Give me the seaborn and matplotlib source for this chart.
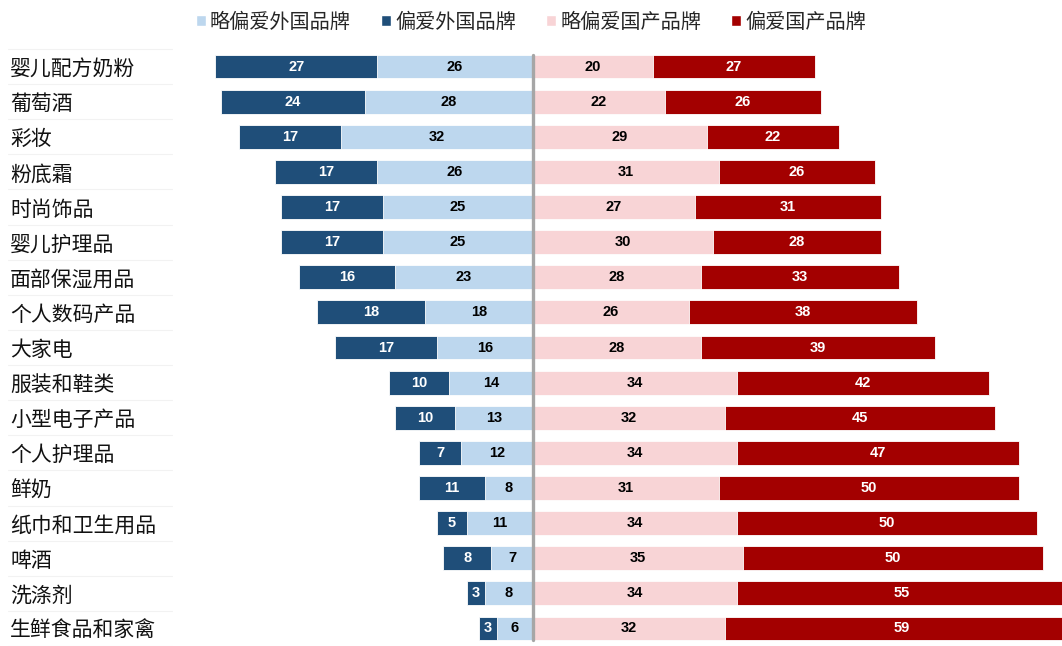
import matplotlib
matplotlib.use("Agg")
import matplotlib.pyplot as plt
import matplotlib.transforms as mtransforms
from matplotlib.patches import Patch
import numpy as np
import pandas as pd
import seaborn as sns

categories = ["婴儿配方奶粉", "葡萄酒", "彩妆", "粉底霜", "时尚饰品", "婴儿护理品",
              "面部保湿用品", "个人数码产品", "大家电", "服装和鞋类", "小型电子产品",
              "个人护理品", "鲜奶", "纸巾和卫生用品", "啤酒", "洗涤剂", "生鲜食品和家禽"]
foreign_strong = [27, 24, 17, 17, 17, 17, 16, 18, 17, 10, 10, 7, 11, 5, 8, 3, 3]
foreign_slight = [26, 28, 32, 26, 25, 25, 23, 18, 16, 14, 13, 12, 8, 11, 7, 8, 6]
domestic_slight = [20, 22, 29, 31, 27, 30, 28, 26, 28, 34, 32, 34, 31, 34, 35, 34, 32]
domestic_strong = [27, 26, 22, 26, 31, 28, 33, 38, 39, 42, 45, 47, 50, 50, 50, 55, 59]

legend_labels = ["略偏爱外国品牌", "偏爱外国品牌", "略偏爱国产品牌", "偏爱国产品牌"]
c_fs, c_fl, c_dl, c_ds = "#1F4E79", "#BDD7EE", "#F8D4D6", "#A30000"

sns.set_theme(style="white")
plt.rcParams["font.family"] = ["Noto Sans CJK SC", "DejaVu Sans"]

df = pd.DataFrame({
    "cat": categories,
    "fs": foreign_strong, "fl": foreign_slight,
    "dl": domestic_slight, "ds": domestic_strong,
})
df["left_total"] = -(df["fs"] + df["fl"])
df["left_inner"] = -df["fl"]
df["right_total"] = df["dl"] + df["ds"]
df["right_inner"] = df["dl"]

W, H = 1062, 646
fig = plt.figure(figsize=(W / 100, H / 100), dpi=100)
ax = fig.add_axes([175 / W, 0.0, 1 - 175 / W, 597 / H])

bw = 0.68
for col, color in [("left_total", c_fs), ("left_inner", c_fl),
                    ("right_total", c_ds), ("right_inner", c_dl)]:
    sns.barplot(data=df, x=col, y="cat", orient="h", color=color, width=bw,
                edgecolor="white", linewidth=0.6, saturation=1, ax=ax)

ax.set_xlim(-59.7, 88.2)
ax.set_ylim(len(categories) - 0.5, -0.5)
ax.axvline(0, ymin=0.01, ymax=0.99, color="#A6A6A6", lw=2.4, zorder=5)

num_font = dict(family="Liberation Sans", fontweight="bold", fontsize=10.5,
                ha="center", va="center", zorder=6)
for i, r in df.iterrows():
    ax.text(-r["fl"] - r["fs"] / 2, i, f"{r['fs']}", color="white", **num_font)
    ax.text(-r["fl"] / 2, i, f"{r['fl']}", color="black", **num_font)
    ax.text(r["dl"] / 2, i, f"{r['dl']}", color="black", **num_font)
    ax.text(r["dl"] + r["ds"] / 2, i, f"{r['ds']}", color="white", **num_font)

ax.set_xlabel("")
ax.set_ylabel("")
ax.set_xticks([])
ax.tick_params(axis="y", length=0, pad=165 * 0.72, labelsize=15, labelcolor="#111111")
for lab in ax.get_yticklabels():
    lab.set_horizontalalignment("left")
for s in ax.spines.values():
    s.set_visible(False)

# faint separators under the category names
trans = mtransforms.blended_transform_factory(fig.transFigure, ax.transData)
for k in range(len(categories) + 1):
    y = k - 0.5
    ax.plot([8 / W, 172 / W], [y, y], color="#F2F2F2", lw=0.8,
            transform=trans, clip_on=False)

handles = [Patch(facecolor=c) for c in (c_fl, c_fs, c_dl, c_ds)]
fig.legend(handles, legend_labels, loc="upper center", bbox_to_anchor=(0.5, 1.01),
           ncol=4, frameon=False, fontsize=14.5, handlelength=0.5, handleheight=0.5,
           handletextpad=0.2, columnspacing=1.5)

fig.savefig("out.png", dpi=100)
